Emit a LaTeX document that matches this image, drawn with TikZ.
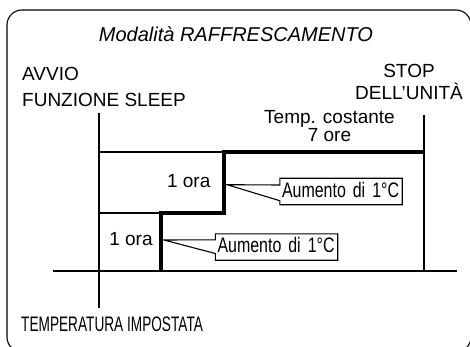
\documentclass[tikz,border=0pt]{standalone}
\usepackage{fontspec}
\setmainfont{Liberation Sans}
\newfontfamily\condfont[FakeStretch=0.76]{Liberation Sans}
\newfontfamily\tightfont[FakeStretch=0.65]{Liberation Sans}

\begin{document}
\begin{tikzpicture}[
    x=1pt, y=-1pt,
    frame/.style={draw, line width=1.1pt, rounded corners=15pt},
    thinline/.style={line width=1.2pt},
    stepline/.style={line width=3.2pt, line join=miter},
    tag/.style={font=\fontsize{19}{26}\selectfont, inner sep=0pt},
    boxtext/.style={font=\condfont\fontsize{21}{24}\selectfont, inner xsep=2pt, inner ysep=3.5pt,
        text width=118pt, align=left, text height=15pt, text depth=4pt},
    callout/.style={line width=1.1pt, line join=miter}
]
\clip (0,0) rectangle (470,347);

% Frame and title
\draw[frame] (7,10) rectangle (471,352);
\node[tag, font=\fontsize{20}{24}\selectfont\itshape, anchor=base] (title) at (236,41.6) {Modalità RAFFRESCAMENTO};

% Start and stop labels (base = last line)
\node[tag, align=left, anchor=base west] (start) at (22,107) {AVVIO\\FUNZIONE SLEEP};
\node[tag, align=center, anchor=base, font=\fontsize{19}{22}\selectfont] (stop) at (409,100) {STOP\\DELL'UNITÀ};
\node[tag, align=center, anchor=base, font=\fontsize{19}{16.7}\selectfont] (hold) at (329.5,141.7) {Temp. costante\\7 ore};
\node[tag, font=\tightfont\fontsize{21}{24}\selectfont, anchor=base west] (setpoint) at (21,331.7) {TEMPERATURA IMPOSTATA};

% Time marks
\coordinate (sleep top) at (99,113);
\coordinate (sleep bottom) at (99,308);
\coordinate (stop top) at (424,115);
\coordinate (stop bottom) at (424,271);
\coordinate (axis left) at (53,271);
\coordinate (axis right) at (457,271);

% Steps
\coordinate (step1 foot) at (161,271);
\coordinate (step1 top) at (161,213);
\coordinate (step2 foot) at (224,213);
\coordinate (step2 top) at (224,152);
\coordinate (hold end) at (424,152);
\coordinate (level1) at (99,213);
\coordinate (level2) at (99,152);

\draw[thinline] (sleep top) -- (sleep bottom);
\draw[thinline] (stop top) -- (stop bottom);
\draw[thinline] (axis left) -- (axis right);
\draw[thinline] (level1) -- (step1 top);
\draw[thinline] (level2) -- (step2 top);
\draw[stepline] (step1 foot) -- (step1 top) -- (step2 foot) -- (step2 top) -- (hold end);

\node[tag, anchor=base] (hour2) at (188.7,187.7) {1 ora};
\node[tag, anchor=base] (hour1) at (131,245) {1 ora};

% Callouts
\coordinate (tip2) at (227,184.7);
\coordinate (tip1) at (164,240);
\node[boxtext] (rise2) at (341,191.5) {Aumento di 1°C};
\node[boxtext] (rise1) at (276.5,247) {Aumento di 1°C};
\draw[callout] (rise2.north west) -- (rise2.north east) -- (rise2.south east) -- (rise2.south west)
    -- ([yshift=4pt]rise2.south west) -- (tip2) -- ([yshift=-6.7pt]rise2.north west) -- cycle;
\draw[callout] (rise1.north west) -- (rise1.north east) -- (rise1.south east) -- (rise1.south west)
    -- ([yshift=6.7pt]rise1.south west) -- (tip1) -- ([yshift=-6pt]rise1.north west) -- cycle;

\end{tikzpicture}
\end{document}
